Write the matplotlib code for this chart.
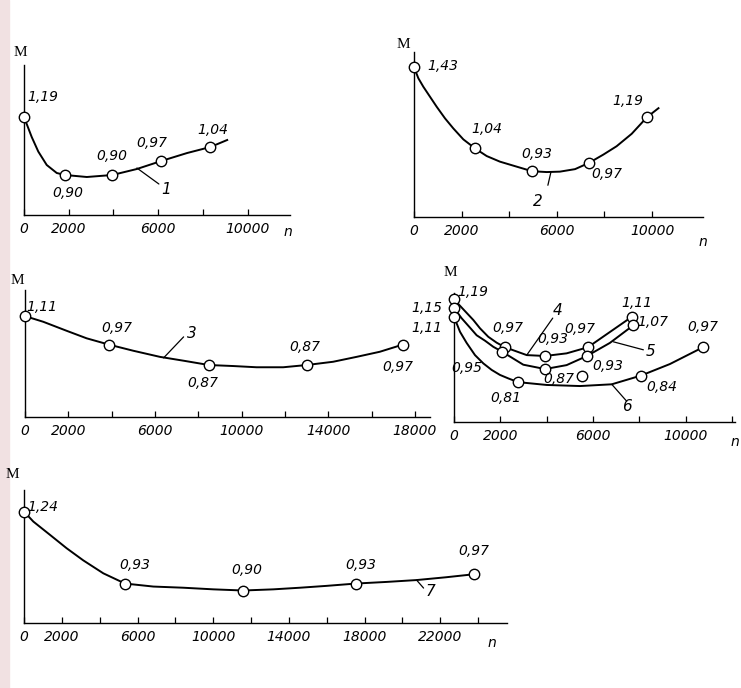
import matplotlib
matplotlib.use("Agg")
import matplotlib.pyplot as plt
from matplotlib.patches import Rectangle

W, H = 741, 688

# ---- data ----
# curve 1
p1_n = [0, 1840, 3950, 6140, 8340]
p1_m = [1.19, 0.90, 0.90, 0.97, 1.04]
p1_line_n = [0, 345, 640, 1017, 1465, 1840, 2810, 3950, 5050, 6140, 7300, 8340, 9090]
p1_line_m = [1.19, 1.09, 1.017, 0.95, 0.91, 0.90, 0.89, 0.90, 0.93, 0.97, 1.01, 1.04, 1.075]

# curve 2
p2_n = [0, 2560, 4960, 7350, 9790]
p2_m = [1.43, 1.04, 0.93, 0.97, 1.19]
p2_line_n = [0, 182, 392, 672, 952, 1303, 1650, 2073, 2560, 3053, 3610, 4313,
             4960, 5574, 6130, 6765, 7350, 7955, 8510, 9146, 9790, 10270]
p2_line_m = [1.43, 1.377, 1.336, 1.288, 1.24, 1.184, 1.136, 1.083, 1.04, 1.003,
             0.976, 0.952, 0.93, 0.926, 0.928, 0.94, 0.97, 1.01, 1.05, 1.11, 1.19, 1.233]

# curve 3
p3_n = [0, 3880, 8490, 13010, 17440]
p3_m = [1.11, 0.97, 0.87, 0.87, 0.97]
p3_line_n = [0, 846, 1920, 2846, 3880, 5000, 6230, 7384, 8490, 9614, 10690,
             11922, 13010, 14228, 15310, 16382, 17440]
p3_line_m = [1.11, 1.082, 1.038, 1.001, 0.97, 0.94, 0.91, 0.89, 0.87, 0.865, 0.859,
             0.859, 0.87, 0.886, 0.91, 0.935, 0.97]

# curves 4, 5, 6
p4_n = [0, 2200, 3930, 5780, 7680]
p4_m = [1.19, 0.97, 0.93, 0.97, 1.11]
p4_line_n = [0, 403, 835, 1122, 1480, 1841, 2200, 3140, 3930, 4860, 5780, 6730, 7680]
p4_line_m = [1.19, 1.144, 1.095, 1.057, 1.018, 0.991, 0.97, 0.934, 0.93, 0.942,
             0.97, 1.04, 1.11]

p5_n = [0, 2070, 3930, 5740, 7730]
p5_m = [1.15, 0.95, 0.87, 0.93, 1.07]
p5_line_n = [0, 331, 690, 978, 1340, 1698, 2070, 2990, 3930, 4860, 5740, 6730, 7730]
p5_line_m = [1.15, 1.103, 1.06, 1.025, 1.0, 0.972, 0.95, 0.89, 0.87, 0.888,
             0.93, 0.99, 1.07]

p6_n = [0, 2760, 8070, 10750]
p6_m = [1.11, 0.81, 0.84, 0.97]
p6_line_n = [0, 259, 545, 906, 1265, 1626, 1985, 2345, 2760, 4000, 5440, 6810,
             8070, 9320, 10750]
p6_line_m = [1.11, 1.041, 0.99, 0.934, 0.896, 0.866, 0.843, 0.827, 0.81, 0.797,
             0.792, 0.80, 0.84, 0.893, 0.97]

stray_n = [5520]
stray_m = [0.84]

# curve 7
p7_n = [0, 5340, 11580, 17550, 23780]
p7_m = [1.24, 0.93, 0.90, 0.93, 0.97]
p7_line_n = [0, 493, 1370, 2255, 3130, 4193, 5340, 6836, 8420, 10006, 11580,
             13180, 14590, 15997, 17550, 19170, 20750, 22300, 23780]
p7_line_m = [1.24, 1.197, 1.14, 1.082, 1.03, 0.974, 0.93, 0.917, 0.912, 0.905,
             0.90, 0.905, 0.912, 0.92, 0.93, 0.937, 0.945, 0.957, 0.97]

# label offsets (pixels) for the value labels
off1 = [(19, 20), (3, -18), (0, 19), (-9, 18), (2, 17)]
off2 = [(29, 1), (12, 19), (5, 17), (18, -11), (-19, 16)]
off3 = [(17, 9), (8, 17), (-6, -18), (-2, 18), (-5, -22)]
off4 = [(19, 7), (3, 19), (8, 17), (-8, 18), (5, 14)]
off5 = [(-27, 0), (-35, -16), (14, -10), (21, -10), (20, 3)]
off6 = [(-27, -11), (-12, -16), (21, -11), (0, 20)]
off7 = [(19, 5), (10, 19), (4, 21), (5, 19), (0, 23)]

fs_lab = 10
fs_tick = 10


def fmt(v):
    return ("%.2f" % v).replace(".", ",")


def px_rect(x0, y0, x1, y1):
    # x0: left spine, y0: bottom spine, x1: right end, y1: top end (image pixels)
    return [x0 / W, 1 - y0 / H, (x1 - x0) / W, (y0 - y1) / H]


def setup(ax, xmax, ylim, ticks, labelled):
    ax.set_xlim(0, xmax)
    ax.set_ylim(*ylim)
    for s in ("top", "right"):
        ax.spines[s].set_visible(False)
    for s in ("left", "bottom"):
        ax.spines[s].set_linewidth(1.0)
    ax.set_yticks([])
    ax.set_xticks(ticks)
    ax.set_xticklabels([str(t) if t in labelled else "" for t in ticks],
                       fontsize=fs_tick, style="italic")
    ax.tick_params(axis="x", direction="in", length=4, width=0.9, pad=5)
    ax.patch.set_alpha(0)


def curve(ax, ln, lm, n, m, offs):
    ax.plot(ln, lm, color="black", lw=1.4, zorder=2, clip_on=False,
            solid_joinstyle="round")
    ax.plot(n, m, "o", ms=7.5, mfc="white", mec="black", mew=1.0,
            zorder=3, clip_on=False)
    for x, y, o in zip(n, m, offs):
        ax.annotate(fmt(y), (x, y), xytext=o, textcoords="offset pixels",
                    ha="center", va="center", fontsize=fs_lab, style="italic")


def tag(ax, text, xy, xytext, textpos):
    ax.annotate("", xy=xy, xytext=xytext, textcoords="offset pixels",
                arrowprops=dict(arrowstyle="-", lw=0.9, color="black",
                                shrinkA=0, shrinkB=0))
    ax.annotate(text, xy, xytext=textpos, textcoords="offset pixels",
                ha="center", va="center", fontsize=fs_lab + 1, style="italic")


def mlabel(x, y):
    fig.text(x / W, 1 - y / H, "M", ha="center", va="center",
             fontsize=11, family="Liberation Serif")


def nlabel(x, y):
    fig.text(x / W, 1 - y / H, "n", ha="center", va="center",
             fontsize=10, style="italic")


fig = plt.figure(figsize=(W / 100, H / 100), dpi=100)
fig.patches.append(Rectangle((0, 0), 9 / W, 1, transform=fig.transFigure,
                             color="#f1e1e2", zorder=0))

# panel 1
ax1 = fig.add_axes(px_rect(24, 215, 290, 65))
setup(ax1, 11900, (0.70, 1.45), range(0, 10001, 2000), (0, 2000, 6000, 10000))
curve(ax1, p1_line_n, p1_line_m, p1_n, p1_m, off1)
tag(ax1, "1", (5050, 0.935), (22, -16), (29, -21))
mlabel(20, 53)
nlabel(288, 232)

# panel 2
ax2 = fig.add_axes(px_rect(414, 217, 703, 52))
setup(ax2, 12140, (0.71, 1.503), range(0, 10001, 2000), (0, 2000, 6000, 10000))
curve(ax2, p2_line_n, p2_line_m, p2_n, p2_m, off2)
tag(ax2, "2", (5750, 0.925), (-3, -13), (-13, -29))
mlabel(403, 45)
nlabel(703, 242)

# panel 3
ax3 = fig.add_axes(px_rect(25, 417, 430, 290))
setup(ax3, 18700, (0.615, 1.238), range(0, 18001, 2000),
      (0, 2000, 6000, 10000, 14000, 18000))
curve(ax3, p3_line_n, p3_line_m, p3_n, p3_m, off3)
tag(ax3, "3", (6400, 0.905), (20, 21), (28, 24))
mlabel(17, 281)

# panel 4
ax4 = fig.add_axes(px_rect(454, 422, 735, 293))
setup(ax4, 12130, (0.627, 1.219), range(0, 12001, 2000), (0, 2000, 6000, 10000))
curve(ax4, p4_line_n, p4_line_m, p4_n, p4_m, off4)
curve(ax4, p5_line_n, p5_line_m, p5_n, p5_m, off5)
curve(ax4, p6_line_n, p6_line_m, p6_n, p6_m, off6)
ax4.plot(stray_n, stray_m, "o", ms=7.5, mfc="white", mec="black", mew=1.0, zorder=3)
tag(ax4, "4", (3140, 0.934), (26, 37), (31, 45))
tag(ax4, "5", (6880, 0.995), (30, -8), (37, -10))
tag(ax4, "6", (6810, 0.80), (15, -17), (15, -22))
mlabel(450, 273)
nlabel(735, 442)

# panel 5
ax5 = fig.add_axes(px_rect(24, 623, 507, 490))
setup(ax5, 25530, (0.76, 1.333), range(0, 24001, 2000),
      (0, 2000, 6000, 10000, 14000, 18000, 22000))
curve(ax5, p7_line_n, p7_line_m, p7_n, p7_m, off7)
tag(ax5, "7", (20750, 0.945), (7, -8), (14, -11))
mlabel(12, 474)
nlabel(492, 643)

fig.savefig("out.png", dpi=100)
